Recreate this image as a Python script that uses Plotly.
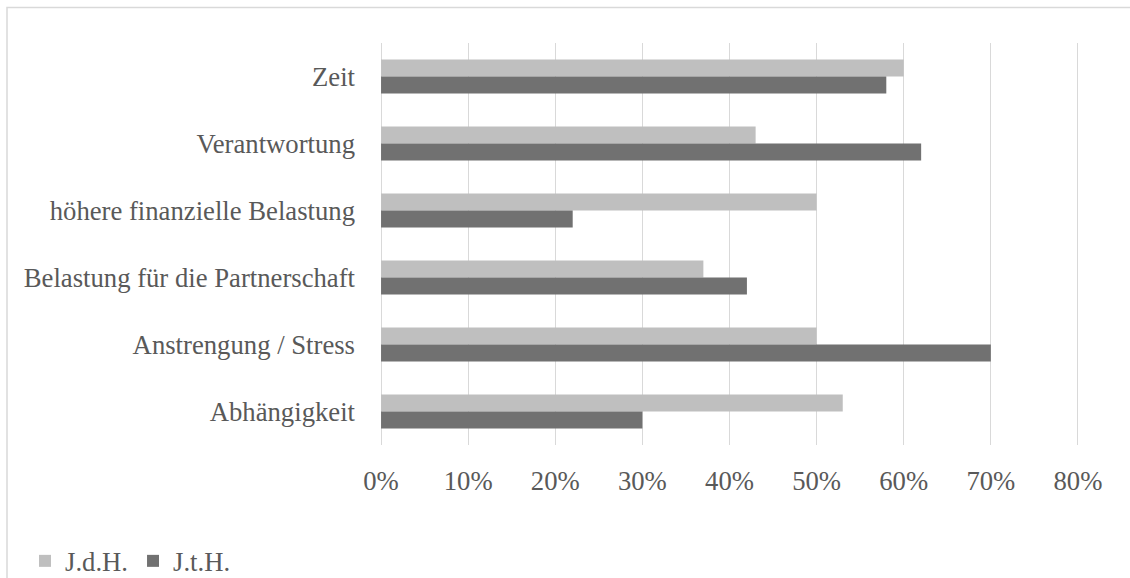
import plotly.graph_objects as go

categories = ["Zeit", "Verantwortung", "höhere finanzielle Belastung",
              "Belastung für die Partnerschaft", "Anstrengung / Stress", "Abhängigkeit"]
series_names = ["J.d.H.", "J.t.H."]
jdh_values = [0.60, 0.43, 0.50, 0.37, 0.50, 0.53]
jth_values = [0.58, 0.62, 0.22, 0.42, 0.70, 0.30]
x_tick_values = [0, 0.1, 0.2, 0.3, 0.4, 0.5, 0.6, 0.7, 0.8]
x_tick_labels = ["0%", "10%", "20%", "30%", "40%", "50%", "60%", "70%", "80%"]

FONT = "Liberation Serif, Times New Roman, serif"
TXT = "#595959"
GRID = "#D9D9D9"
FS = 26.7

fig = go.Figure()
fig.add_trace(go.Bar(y=categories, x=jdh_values, name=series_names[0], orientation="h",
                     marker=dict(color="#BFBFBF", line=dict(width=0))))
fig.add_trace(go.Bar(y=categories, x=jth_values, name=series_names[1], orientation="h",
                     marker=dict(color="#717171", line=dict(width=0))))

W, H = 1130, 578
L, R, T, B = 380, 1079, 43, 445
pw, ph = R - L, B - T

fig.update_layout(
    width=W, height=H,
    margin=dict(l=L, r=W - R, t=T, b=H - B, autoexpand=False),
    paper_bgcolor="white", plot_bgcolor="white",
    barmode="group", bargap=0.49, bargroupgap=0,
    font=dict(family=FONT, size=FS, color=TXT),
    showlegend=True,
    legend=dict(orientation="h", xref="container", yref="container",
                x=25 / W, y=1 - 561 / H, xanchor="left", yanchor="middle",
                traceorder="normal", font=dict(family=FONT, size=FS, color=TXT),
                bgcolor="rgba(0,0,0,0)", itemclick=False),
    xaxis=dict(range=[-0.0012, 0.8012], tickvals=x_tick_values, ticktext=x_tick_labels,
               showgrid=True, gridcolor=GRID, gridwidth=1.3,
               zeroline=True, zerolinecolor=GRID, zerolinewidth=1.3,
               showline=False, ticks="", ticklabelstandoff=17,
               tickfont=dict(family=FONT, size=FS, color=TXT), fixedrange=True),
    yaxis=dict(autorange="reversed", showgrid=False, zeroline=False, showline=False,
               ticks="", ticklabelstandoff=24,
               tickfont=dict(family=FONT, size=FS, color=TXT), fixedrange=True),
    shapes=[dict(type="rect", xref="paper", yref="paper",
                 x0=(7 - L) / pw, x1=(W + 10 - L) / pw,
                 y0=(B - (H + 10)) / ph, y1=1 + (T - 7.5) / ph,
                 line=dict(color=GRID, width=1.5), fillcolor="rgba(0,0,0,0)", layer="below")],
)

fig.write_html("out.html", config={"displayModeBar": False},
               post_script="document.body.style.margin='0px';document.body.style.padding='0px';")
